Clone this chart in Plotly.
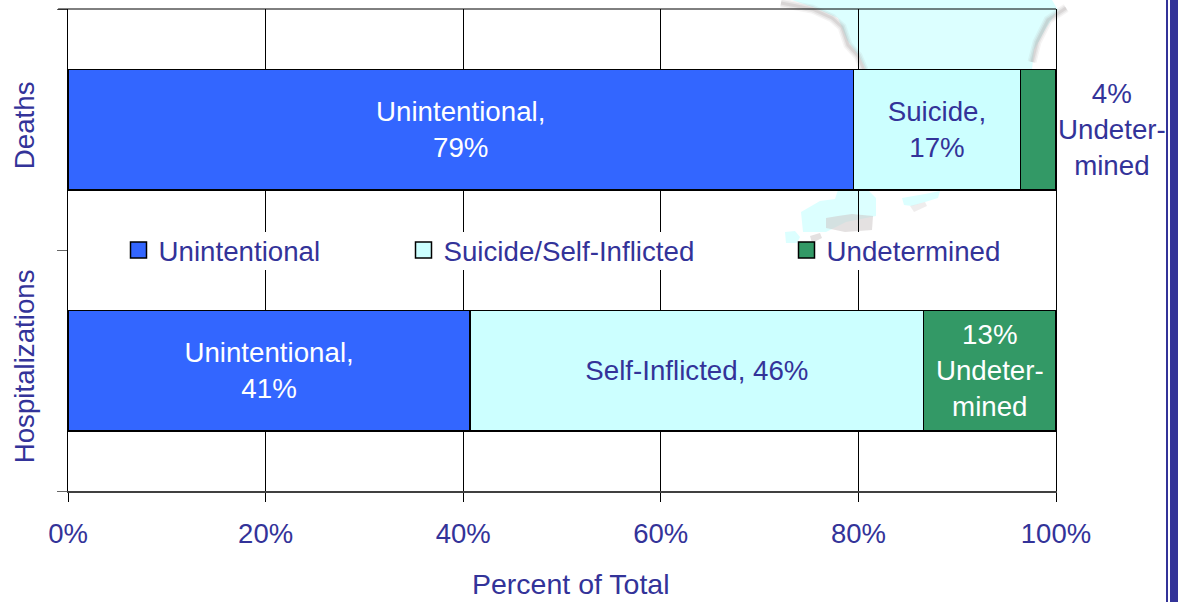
import plotly.graph_objects as go

categories = ["Hospitalizations", "Deaths"]
unintentional = [40.7, 79.5]
suicide = [45.9, 16.9]
undetermined = [13.4, 3.6]
unintentional_text = ["Unintentional,<br>41%", "Unintentional,<br>79%"]
suicide_text = ["Self-Inflicted, 46%", "Suicide,<br>17%"]
undetermined_text = ["13%<br>Undeter-<br>mined", ""]
outside_note = "4%<br>Undeter-<br>mined"
legend_names = ["Unintentional", "Suicide/Self-Inflicted", "Undetermined"]
x_ticks = [0, 20, 40, 60, 80, 100]
x_tick_labels = ["0%", "20%", "40%", "60%", "80%", "100%"]
x_title = "Percent of Total"

BLUE, CYAN, GREEN, INK = "#3366FF", "#CCFFFF", "#339966", "#333399"
FONT = "Liberation Sans, Arial, sans-serif"
FS = 27.7
L, R, T, B = 68, 1056, 9, 491


def px(x):
    return (x - L) / (R - L)


def py(y):
    return (B - y) / (B - T)


def poly(points):
    return "M" + " L".join(f"{px(a):.5f},{py(b):.5f}" for a, b in points) + " Z"


def open_path(points):
    return "M" + " L".join(f"{px(a):.5f},{py(b):.5f}" for a, b in points)


fig = go.Figure()
for vals, txt, fill, tcol, nm in [
    (unintentional, unintentional_text, BLUE, "white", legend_names[0]),
    (suicide, suicide_text, CYAN, INK, legend_names[1]),
    (undetermined, undetermined_text, GREEN, "white", legend_names[2]),
]:
    fig.add_trace(go.Bar(
        y=categories, x=vals, orientation="h", name=nm, showlegend=False,
        text=txt, textposition="inside", insidetextanchor="middle", textangle=0,
        constraintext="none", insidetextfont=dict(color=tcol, size=FS, family=FONT),
        marker=dict(color=fill, line=dict(color="black", width=1.5)),
        hoverinfo="skip",
    ))

for i, (nm, fill) in enumerate(zip(legend_names, [BLUE, CYAN, GREEN])):
    fig.add_trace(go.Scatter(
        x=[None], y=[None], mode="markers", name=nm,
        marker=dict(symbol="square", size=16, color=fill, line=dict(color="black", width=1.5)),
        legend="legend" if i == 0 else f"legend{i + 1}",
    ))

shapes = []
MAP = "#DCFFFF"


def blob(points, fill=MAP):
    shapes.append(dict(type="path", xref="paper", yref="paper", layer="below", line_width=0,
                       fillcolor=fill, path=poly(points)))


def soft_line(points):
    for w, alpha in [(9, 0.12), (6, 0.18), (3, 0.25)]:
        shapes.append(dict(type="path", xref="paper", yref="paper", layer="below",
                           fillcolor="rgba(0,0,0,0)", line=dict(color=f"rgba(170,165,165,{alpha})", width=w),
                           path=open_path(points)))


# pale map artwork behind the chart
blob([(792, 0), (815, 8), (838, 18), (847, 40), (860, 58), (866, 70),
      (1032, 70), (1034, 50), (1046, 28), (1058, 10), (1052, 0)])
blob([(801, 212), (820, 201), (835, 199), (838, 190), (868, 190), (876, 198),
      (876, 216), (846, 222), (826, 232), (803, 232)])
blob([(785, 232), (795, 231), (800, 237), (797, 243), (786, 243)])
blob([(902, 198), (925, 194), (940, 191), (938, 198), (912, 206), (904, 205)])
blob([(826, 218), (838, 216), (852, 214), (873, 216), (872, 230), (845, 232), (826, 228)], "rgba(205,200,200,0.55)")
blob([(810, 236), (820, 233), (822, 238), (812, 243)], "rgba(205,200,200,0.55)")
blob([(910, 206), (925, 202), (927, 206), (914, 212)], "rgba(220,216,216,0.45)")
soft_line([(781, 3), (812, 9), (832, 18), (842, 27), (848, 45), (858, 56), (864, 70)])
soft_line([(1066, 8), (1048, 20), (1037, 42), (1032, 62)])

# breaks in the gridlines around the legend row
for v in x_ticks[1:-1]:
    shapes.append(dict(type="rect", xref="x", yref="paper", layer="above", line_width=0, fillcolor="white",
                       x0=v - 0.25, x1=v + 0.25, y0=py(270), y1=py(232)))

# top frame line
shapes.append(dict(type="line", xref="paper", yref="paper", x0=-0.01, x1=1, y0=1, y1=1,
                   line=dict(color="black", width=1), layer="above"))

# slide rule at the right edge
for a, b in [(1166, 1168), (1170, 1178)]:
    shapes.append(dict(type="rect", xref="paper", yref="paper", x0=px(a), x1=px(b), y0=py(602), y1=py(0),
                       line_width=0, fillcolor=INK, layer="above"))

legend_base = dict(orientation="h", yanchor="middle", y=py(250.5), xanchor="left", bgcolor="rgba(0,0,0,0)",
                   font=dict(size=FS, color=INK, family=FONT), itemclick=False, itemdoubleclick=False)

fig.update_layout(
    width=1181, height=602, autosize=False,
    margin=dict(l=L, r=1181 - R, t=T, b=602 - B),
    paper_bgcolor="white", plot_bgcolor="rgba(0,0,0,0)",
    barmode="stack", bargap=0.5,
    font=dict(family=FONT, size=FS, color=INK),
    showlegend=True,
    legend=dict(legend_base, x=px(118.5)),
    legend2=dict(legend_base, x=px(403.5)),
    legend3=dict(legend_base, x=px(786.5)),
    shapes=shapes,
    annotations=[
        dict(xref="paper", yref="y", x=px(1112), y="Deaths", text=outside_note, showarrow=False,
             font=dict(size=FS, color=INK, family=FONT), xanchor="center", yanchor="middle"),
        dict(xref="paper", yref="paper", x=px(571), y=py(584), text=x_title, showarrow=False,
             font=dict(size=28.5, color=INK, family=FONT), xanchor="center", yanchor="middle"),
    ],
    xaxis=dict(range=[0, 100], tickvals=x_ticks, ticktext=x_tick_labels, ticks="outside", ticklen=9,
               tickcolor="black", tickwidth=1, showgrid=True, gridcolor="black", gridwidth=1,
               showline=True, linecolor="#404040", linewidth=2, zeroline=False, ticklabelstandoff=8,
               tickfont=dict(size=27.5, color=INK, family=FONT), automargin=False),
    yaxis=dict(type="category", categoryorder="array", categoryarray=categories, range=[-0.5, 1.5],
               tickson="boundaries", ticks="outside", ticklen=10, tickcolor="#666666", tickwidth=1,
               showgrid=False, showline=True, linecolor="black", linewidth=1, mirror=True, zeroline=False,
               tickangle=-90, ticklabelstandoff=22,
               tickfont=dict(size=FS, color=INK, family=FONT), automargin=False),
)

fig.write_html("out.html", post_script="document.body.style.margin='0';",
               config={"displayModeBar": False})
